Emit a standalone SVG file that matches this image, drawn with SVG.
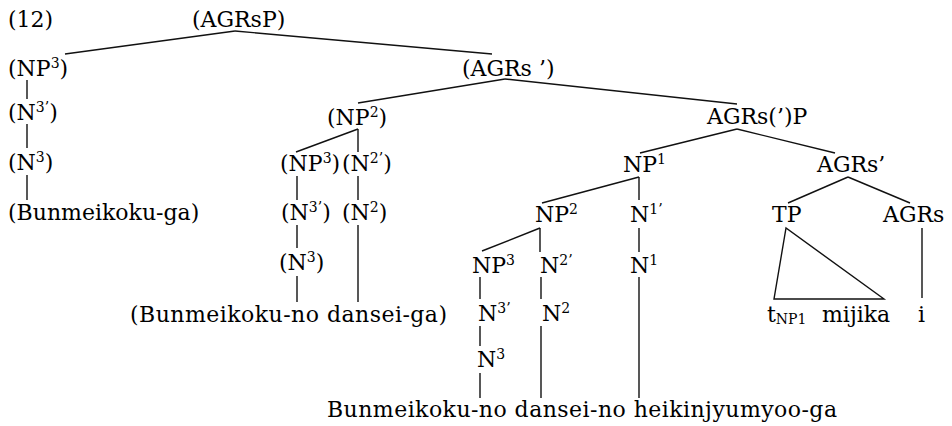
<svg xmlns="http://www.w3.org/2000/svg" width="952" height="426" viewBox="0 0 952 426">
<style>
text{font-family:"DejaVu Serif","Liberation Serif",serif;font-size:22px;fill:#000}
.sup{font-size:14px}
.sub{font-size:14px}
.e line,.e polygon{stroke:#111;stroke-width:1.4;fill:none}
</style>
<rect width="952" height="426" fill="#fff"/>
<g id="label12"><text x="8" y="27">(12)</text></g>
<g id="n-agrsp"><text x="192" y="27">(AGRsP)</text></g>
<g id="n-np3a"><text x="8" y="76">(NP<tspan class="sup" dy="-8">3</tspan><tspan dy="8">)</tspan></text></g>
<g id="n-n3pa"><text x="8" y="120">(N<tspan class="sup" dy="-8">3’</tspan><tspan dy="8">)</tspan></text></g>
<g id="n-n3a"><text x="8" y="170">(N<tspan class="sup" dy="-8">3</tspan><tspan dy="8">)</tspan></text></g>
<g id="w-a"><text x="8" y="220">(Bunmeikoku-ga)</text></g>
<g id="n-agrsbar"><text x="462" y="76">(AGRs ’)</text></g>
<g id="n-np2a"><text x="327" y="125">(NP<tspan class="sup" dy="-8">2</tspan><tspan dy="8">)</tspan></text></g>
<g id="n-agrsp2"><text x="707" y="124">AGRs(’)P</text></g>
<g id="n-np3b"><text x="280" y="171">(NP<tspan class="sup" dy="-8">3</tspan><tspan dy="8">)</tspan></text></g>
<g id="n-n2pb"><text x="342" y="171">(N<tspan class="sup" dy="-8">2’</tspan><tspan dy="8">)</tspan></text></g>
<g id="n-n3pb"><text x="281" y="220">(N<tspan class="sup" dy="-8">3’</tspan><tspan dy="8">)</tspan></text></g>
<g id="n-n2b"><text x="342" y="220">(N<tspan class="sup" dy="-8">2</tspan><tspan dy="8">)</tspan></text></g>
<g id="n-n3b"><text x="279" y="270">(N<tspan class="sup" dy="-8">3</tspan><tspan dy="8">)</tspan></text></g>
<g id="w-b"><text x="130" y="322" textLength="317" lengthAdjust="spacing">(Bunmeikoku-no dansei-ga)</text></g>
<g id="n-np1"><text x="623" y="172">NP<tspan class="sup" dy="-8">1</tspan></text></g>
<g id="n-agrsbar2"><text x="817" y="172">AGRs’</text></g>
<g id="n-np2c"><text x="535" y="222">NP<tspan class="sup" dy="-8">2</tspan></text></g>
<g id="n-n1p"><text x="630" y="222">N<tspan class="sup" dy="-8">1’</tspan></text></g>
<g id="n-tp"><text x="772" y="222">TP</text></g>
<g id="n-agrs"><text x="883" y="222">AGRs</text></g>
<g id="n-np3c"><text x="472" y="273">NP<tspan class="sup" dy="-8">3</tspan></text></g>
<g id="n-n2pc"><text x="540" y="273">N<tspan class="sup" dy="-8">2’</tspan></text></g>
<g id="n-n1"><text x="630" y="273">N<tspan class="sup" dy="-8">1</tspan></text></g>
<g id="n-n3pc"><text x="478" y="321">N<tspan class="sup" dy="-8">3’</tspan></text></g>
<g id="n-n2c"><text x="542" y="321">N<tspan class="sup" dy="-8">2</tspan></text></g>
<g id="n-n3c"><text x="477" y="367">N<tspan class="sup" dy="-8">3</tspan></text></g>
<g id="w-c"><text x="327" y="417" textLength="510" lengthAdjust="spacing">Bunmeikoku-no dansei-no heikinjyumyoo-ga</text></g>
<g id="w-t"><text x="767" y="322">t<tspan class="sub" dy="2">NP1</tspan></text></g>
<g id="w-mijika"><text x="822" y="322">mijika</text></g>
<g id="w-i"><text x="918" y="322">i</text></g>
<g id="edges" class="e">
<line x1="235" y1="31" x2="65" y2="54"/>
<line x1="235" y1="31" x2="492" y2="54"/>
<line x1="27" y1="80" x2="27" y2="99"/>
<line x1="27" y1="124" x2="27" y2="148"/>
<line x1="27" y1="175" x2="27" y2="200"/>
<line x1="505" y1="79" x2="358" y2="103"/>
<line x1="505" y1="79" x2="737" y2="104"/>
<line x1="358" y1="129" x2="296" y2="152"/>
<line x1="358" y1="129" x2="358" y2="152"/>
<line x1="297" y1="176" x2="297" y2="200"/>
<line x1="358" y1="176" x2="358" y2="200"/>
<line x1="297" y1="225" x2="297" y2="248"/>
<line x1="358" y1="225" x2="358" y2="302"/>
<line x1="297" y1="276" x2="297" y2="302"/>
<line x1="737" y1="129" x2="640" y2="153"/>
<line x1="737" y1="129" x2="835" y2="153"/>
<line x1="639" y1="177" x2="542" y2="203"/>
<line x1="639" y1="177" x2="639" y2="200"/>
<line x1="540" y1="228" x2="482" y2="251"/>
<line x1="540" y1="228" x2="540" y2="252"/>
<line x1="639" y1="228" x2="639" y2="252"/>
<line x1="480" y1="277" x2="480" y2="299"/>
<line x1="541" y1="277" x2="541" y2="299"/>
<line x1="639" y1="277" x2="639" y2="398"/>
<line x1="480" y1="326" x2="480" y2="346"/>
<line x1="541" y1="326" x2="541" y2="398"/>
<line x1="480" y1="373" x2="480" y2="398"/>
<line x1="848" y1="177" x2="788" y2="203"/>
<line x1="848" y1="177" x2="910" y2="203"/>
<polygon points="786,228 774,299 884,299"/>
<line x1="922" y1="228" x2="922" y2="298"/>
</g>
</svg>
